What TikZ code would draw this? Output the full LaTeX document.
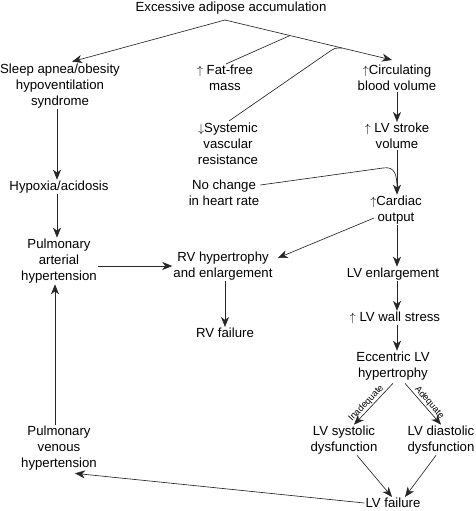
\documentclass[tikz,border=0pt]{standalone}
\usepackage{fontspec}
\setmainfont{Liberation Sans}
\usetikzlibrary{arrows.meta,calc}
\begin{document}
\begin{tikzpicture}[x=1pt,y=-1pt,
  box/.style={align=center,inner sep=1pt,font=\fontsize{13.2}{16}\selectfont},
  ln/.style={line width=0.65pt,draw=black!85},
  arr/.style={ln,-{Stealth[length=10pt,width=8pt,inset=3pt]}},
  lab/.style={font=\fontsize{9.2}{10}\selectfont,inner sep=1pt}]
\useasboundingbox (0,0) rectangle (476,511);
\newcommand{\up}{$\uparrow$}
\newcommand{\dn}{$\downarrow$}
% nodes
\node[box] (E) at (231,8) {Excessive adipose accumulation};
\node[box] (sleep) at (60,86) {Sleep apnea/obesity\\hypoventilation\\syndrome};
\node[box] (ffm) at (225,78) {\up\ Fat-free\\mass};
\node[box] (circ) at (397,78) {\up Circulating\\blood volume};
\node[box] (sv) at (397,136) {\up\ LV stroke\\volume};
\node[box] (svr) at (228,144) {\dn Systemic\\vascular\\resistance};
\node[box] (hyp) at (59,187) {Hypoxia/acidosis};
\node[box] (nc) at (224,193) {No change\\in heart rate};
\node[box] (co) at (396,210) {\up Cardiac\\output};
\node[box] (paht) at (59,261) {Pulmonary\\arterial\\hypertension};
\node[box] (rvh) at (223,266) {RV hypertrophy\\and enlargement};
\node[box] (lve) at (393,274) {LV enlargement};
\node[box] (rvf) at (225,333) {RV failure};
\node[box] (lvws) at (395,318) {\up\ LV wall stress};
\node[box] (ecc) at (393,366) {Eccentric LV\\hypertrophy};
\node[box] (sys) at (344,440) {LV systolic\\dysfunction};
\node[box] (dia) at (441,440) {LV diastolic\\dysfunction};
\node[box] (pvh) at (59,448) {Pulmonary\\venous\\hypertension};
\node[box] (lvf) at (393,503) {LV failure};
% helper coordinates
\coordinate (apex) at (225,20);
\coordinate (vx) at (397,0);
\coordinate (ct) at ($(circ.north)+(-5,-4)$);
\coordinate (j1) at ($(apex)!0.389!(ct)$);
\coordinate (j2) at ($(apex)!0.70!(ct)$);
% top branching
\draw[arr] (apex) -- ($(sleep.north)+(12,-1)$);
\draw[arr] (apex) -- (ct);
\draw[ln] ($(ffm.north)+(1,0)$) -- (j1);
\draw[ln] ($(svr.north)+(1,-1)$) -- ($(j2)+(-13,4)$) .. controls ($(j2)+(-7,0)$) .. (j2);
% right column
\draw[arr] (circ.south -| vx) -- (sv.north -| vx);
\draw[arr] (sv.south -| vx) -- (co.north -| vx);
\draw[ln] ($(nc.east)+(0,-8)$) -- (383,168) .. controls (395,166) and (397,175) .. ($(co.north -| vx)+(0,-6)$);
\draw[arr] ($(co.west)+(5,8)$) -- ($(rvh.east)+(4,-8)$);
\draw[arr] (co.south -| vx) -- (lve.north -| vx);
\draw[arr] (lve.south -| vx) -- (lvws.north -| vx);
\draw[arr] (lvws.south -| vx) -- (ecc.north -| vx);
\draw[arr] ($(ecc.south)+(0,2)$) -- node[lab,sloped,above,pos=0.58] {Inadequate} ($(sys.north)+(10,0)$);
\draw[arr] ($(ecc.south)+(12,2)$) -- node[lab,sloped,above,pos=0.56] {Adequate} ($(dia.north)+(0,0)$);
\draw[arr] ($(sys.south)+(13,0)$) -- ($(lvf.north)+(-1,0)$);
\draw[arr] ($(dia.south)+(-5,0)$) -- ($(lvf.north)+(12,0)$);
\draw[arr] (lvf.west) -- ($(pvh.south east)+(-23,2)$);
% left column
\draw[arr] ($(sleep.south)+(-3,0)$) -- ($(hyp.north)+(-2,0)$);
\draw[arr] ($(hyp.south)+(-2,0)$) -- ($(paht.north)+(-2,0)$);
\draw[arr] ($(pvh.north)+(-4,0)$) -- ($(paht.south)+(-4,0)$);
\draw[arr] (paht.east |- rvh.west) -- (rvh.west);
\draw[arr] (rvh.south -| rvf.north) -- (rvf.north);
\end{tikzpicture}
\end{document}
